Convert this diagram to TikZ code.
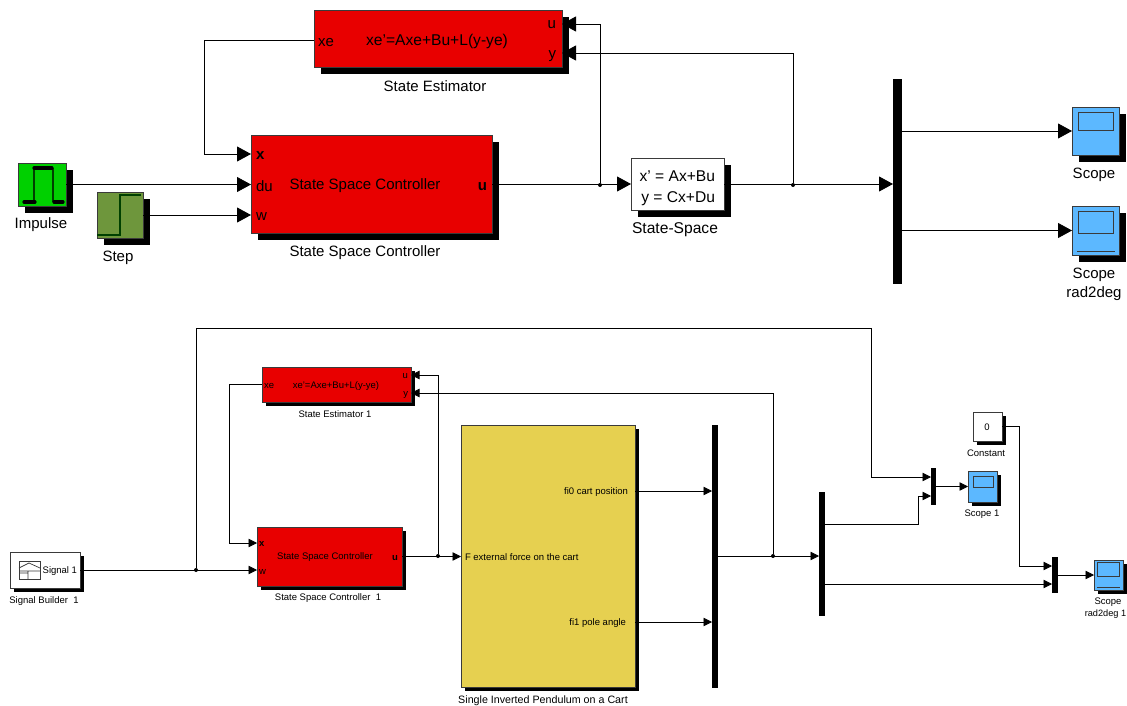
\documentclass[tikz,border=0pt]{standalone}
\usepackage{fontspec}
\setmainfont{Liberation Sans}
\usetikzlibrary{arrows.meta,shadows}
\definecolor{rd}{HTML}{E80000}
\definecolor{gn}{HTML}{00D000}
\definecolor{stp}{HTML}{6E963C}
\definecolor{sc}{HTML}{5CB8FF}
\definecolor{yl}{HTML}{E6D050}
\definecolor{edge}{HTML}{3A3A3A}
\tikzset{
 blockbase/.style={draw=edge,line width=0.9pt,inner sep=0pt,outer sep=0pt,anchor=center},
 shbig/.style={drop shadow={shadow xshift=7pt,shadow yshift=-7pt,opacity=1,fill=black}},
 shsm/.style={drop shadow={shadow xshift=4pt,shadow yshift=-4pt,opacity=1,fill=black}},
 muxbar/.style={fill=black,draw=none,inner sep=0pt,outer sep=0pt},
 wire/.style={line width=0.8pt,color=black},
 big/.style={wire,-{Triangle[length=14pt,width=15pt]}},
 small/.style={wire,-{Triangle[length=8.5pt,width=8.5pt]}},
 jn/.style={circle,fill=black,inner sep=0pt,minimum size=4pt},
 pt/.style={inner sep=0pt,outer sep=0pt,yshift=-1.5pt,font=\fontsize{15}{17}\selectfont},
 ptw/.style={pt,font=\fontsize{15.6}{17}\selectfont},
 ptb/.style={pt,font=\fontsize{15}{17}\selectfont\bfseries},
 tiny/.style={inner sep=0pt,outer sep=0pt,yshift=-0.8pt,font=\fontsize{9.5}{12}\selectfont},
 tinyb/.style={tiny,font=\fontsize{9.5}{12}\selectfont\bfseries},
}
% name, x1, y1, x2, y2, style
\newcommand{\blk}[6]{%
 \pgfmathsetmacro{\cxx}{(#2+#4)/2}\pgfmathsetmacro{\cyy}{(#3+#5)/2}%
 \pgfmathsetmacro{\www}{#4-#2}\pgfmathsetmacro{\hhh}{#5-#3}%
 \node[blockbase,minimum width=\www pt,minimum height=\hhh pt,#6] (#1) at (\cxx,\cyy) {};}
\newcommand{\mux}[5]{%
 \pgfmathsetmacro{\cxx}{(#2+#4)/2}\pgfmathsetmacro{\cyy}{(#3+#5)/2}%
 \pgfmathsetmacro{\www}{#4-#2}\pgfmathsetmacro{\hhh}{#5-#3}%
 \node[muxbar,minimum width=\www pt,minimum height=\hhh pt] (#1) at (\cxx,\cyy) {};}
\begin{document}
\begin{tikzpicture}[x=1pt,y=-1pt]
\useasboundingbox (0,0) rectangle (1127,706);
% top blocks
\blk{est}{314}{10}{562}{67}{fill=rd,shbig}
\blk{ctl}{251}{135}{492}{233}{fill=rd,shbig}
\blk{imp}{18}{163}{66}{206}{fill=gn,shbig}
\blk{stepb}{97}{192}{143}{238}{fill=stp,shbig}
\blk{ss}{631}{158}{724}{210}{fill=white,shbig}
\mux{muxa}{893}{79}{902}{284}
\blk{sco}{1072}{107}{1119}{155}{fill=sc,shbig}
\blk{scr}{1072}{206}{1119}{255}{fill=sc,shbig}
% bottom blocks
\blk{sig}{10}{552}{80}{588}{fill=white,shsm}
\blk{esta}{262}{367}{411}{402}{fill=rd,shsm}
\blk{ctla}{257}{527}{402}{586}{fill=rd,shsm}
\blk{pen}{461}{425}{635}{687}{fill=yl,shsm}
\mux{muxb}{712}{425}{718}{688}
\mux{muxc}{819}{492}{825}{616}
\mux{muxd}{931}{468}{936}{505}
\mux{muxe}{1052}{557}{1058}{593}
\blk{scoa}{968}{471}{997}{502}{fill=sc,shsm}
\blk{con}{973}{412}{1002}{441}{fill=white,shsm}
\blk{scra}{1094}{560}{1123}{590}{fill=sc,shsm}
% icons
\draw[line width=1.3pt,color=green!25!black] (34,202) -- (34,168) (53,168) -- (53,202);
\draw[line width=3.2pt,line cap=round] (24,202) -- (35,202) (34,168) -- (52,168) (54,202) -- (63,202);
\draw[line width=1.2pt,color=green!25!black] (97,235) -- (120,235) -- (120,195) -- (141,195);
\draw[edge,line width=1pt,fill=sc] (1078,113) rectangle (1113,131);
\draw[edge,line width=1pt,fill=sc] (1078,211) rectangle (1113,233);
\draw[edge,line width=1pt] (1077,251) -- (1115,251);
\draw[edge,line width=1pt,fill=sc] (973,476) rectangle (993,487);
\draw[edge,line width=1pt,fill=sc] (1097,562) rectangle (1119,576);
\draw[edge,line width=1pt] (1097,587) -- (1120,587);
\draw[edge,line width=0.7pt] (19,561) rectangle (40,579);
\draw[edge,line width=0.7pt] (19,568) -- (29,563) -- (40,568) (19,571) -- (40,571) (19,573) -- (28,573) (28,571) -- (28,579);
% top texts
\node[pt,anchor=west] (t1) at (318,41) {xe};
\node[ptw] (t2) at (437,40) {xe'=Axe+Bu+L(y-ye)};
\node[pt,anchor=east] (t3) at (556,23) {u};
\node[pt,anchor=east] (t4) at (556,55) {y};
\node[pt] (t5) at (435,84.5) {State Estimator};
\node[ptb,anchor=west] (t6) at (256,154) {x};
\node[pt,anchor=west] (t7) at (256,185) {du};
\node[pt,anchor=west] (t8) at (256,215) {w};
\node[ptb,anchor=east] (t9) at (487,185) {u};
\node[pt] (t10) at (365,184.5) {State Space Controller};
\node[pt] (t11) at (365,251) {State Space Controller};
\node[pt] (t12) at (41,223) {Impulse};
\node[pt] (t13) at (118,256) {Step};
\node[ptw,anchor=east] (t14) at (715,175) {x' = Ax+Bu};
\node[ptw,anchor=east] (t15) at (715,197) {y = Cx+Du};
\node[ptw] (t16) at (675,228) {State-Space};
\node[pt] (t17) at (1094,173) {Scope};
\node[pt] (t18) at (1094,273) {Scope};
\node[pt] (t19) at (1094,292) {rad2deg};
% bottom texts
\node[tiny,anchor=east] (b1) at (77,570) {Signal 1};
\node[tiny] (b2) at (44,600) {Signal Builder\ \ 1};
\node[tiny,anchor=west] (b3) at (264,385) {xe};
\node[tiny] (b4) at (336,385) {xe'=Axe+Bu+L(y-ye)};
\node[tiny,anchor=east] (b5) at (408,375) {u};
\node[tiny,anchor=east] (b6) at (408,394) {y};
\node[tiny] (b7) at (335,413) {State Estimator 1};
\node[tinyb,anchor=west] (b8) at (259,543) {x};
\node[tiny,anchor=west] (b9) at (259,571) {w};
\node[tinyb,anchor=east] (b10) at (398,557) {u};
\node[tiny] (b11) at (325,556) {State Space Controller};
\node[tiny] (b12) at (328,597) {State Space Controller\ \ 1};
\node[tiny,anchor=west] (b13) at (465,556) {F external force on the cart};
\node[tiny,anchor=east] (b14) at (628,491) {fi0 cart position};
\node[tiny,anchor=east] (b15) at (626,622) {fi1 pole angle};
\node[tiny,font=\fontsize{10.7}{12}\selectfont] (b16) at (543,700) {Single Inverted Pendulum on a Cart};
\node[tiny] (b17) at (987,426) {0};
\node[tiny] (b18) at (986,452) {Constant};
\node[tiny] (b19) at (982,513) {Scope 1};
\node[tiny] (b20) at (1108,601) {Scope};
\node[tiny,font=\fontsize{9.2}{12}\selectfont] (b21) at (1105.5,613) {rad2deg 1};
% junctions
\node[jn] (j1) at (600,185) {};
\node[jn] (j2) at (793,185) {};
\node[jn] (j3) at (196,570) {};
\node[jn] (j4) at (438,556) {};
\node[jn] (j5) at (773,556) {};
% top wires
\draw[big] (est.west |- 0,40) -| (204,154) -- (ctl.west |- 0,154);
\draw[big] (imp.east) -- (ctl.west |- imp.east);
\draw[big] (stepb.east) -- (ctl.west |- stepb.east);
\draw[big] (ctl.east) -- (ss.west);
\draw[big] (j1) |- (est.east |- 0,24);
\draw[big] (j2) |- (est.east |- 0,53);
\draw[big] (ss.east) -- (muxa.west |- ss.east);
\draw[big] (muxa.east |- sco.west) -- (sco.west);
\draw[big] (muxa.east |- scr.west) -- (scr.west);
% bottom wires
\draw[small] (sig.east) -- (ctla.west |- sig.east);
\draw[small] (j3) |- (871,328) |- (muxd.west |- 0,477);
\draw[small] (esta.west) -| (229,543) -- (ctla.west |- 0,543);
\draw[small] (ctla.east) -- (pen.west |- ctla.east);
\draw[small] (j4) |- (esta.east |- 0,375);
\draw[small] (j5) |- (esta.east |- 0,393);
\draw[small] (pen.east |- 0,491) -- (muxb.west |- 0,491);
\draw[small] (pen.east |- 0,622) -- (muxb.west |- 0,622);
\draw[small] (muxb.east |- 0,556) -- (muxc.west |- 0,556);
\draw[small] (muxc.east |- 0,524) -| (918,496) -- (muxd.west |- 0,496);
\draw[small] (muxc.east |- 0,584) -- (muxe.west |- 0,584);
\draw[small] (muxd.east) -- (scoa.west);
\draw[small] (con.east) -| (1019,566) -- (muxe.west |- 0,566);
\draw[small] (muxe.east) -- (scra.west);
\end{tikzpicture}
\end{document}
